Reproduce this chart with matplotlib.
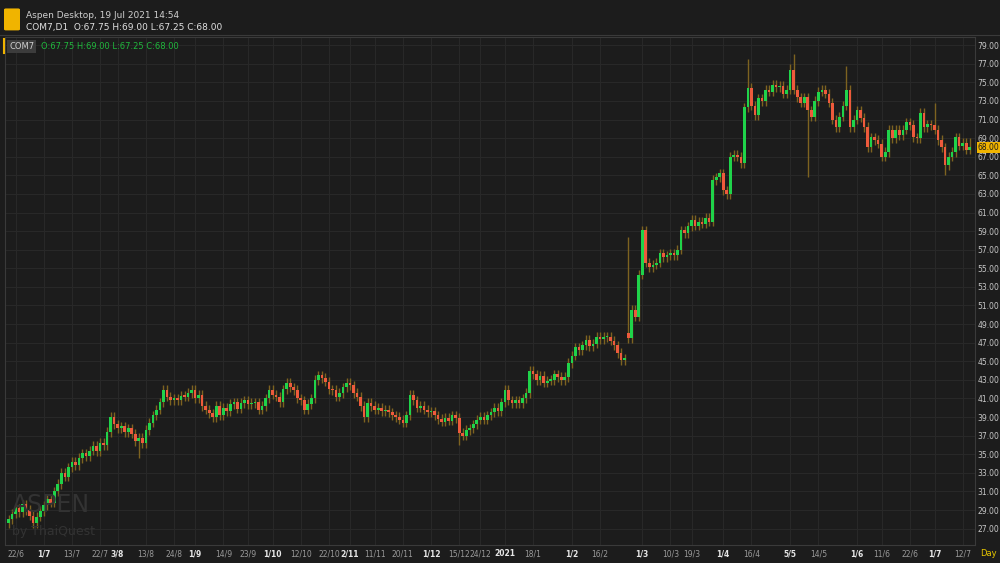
import numpy as np
import matplotlib.pyplot as plt
from matplotlib.patches import FancyBboxPatch

# Daily closes (COM7, 22/6/2020 - 19/7/2021)
closes = [
    28.0, 28.6, 29.2, 28.8, 29.6, 29.0, 28.4, 27.6, 28.3, 28.9,
    29.5, 30.2, 29.8, 31.0, 31.8, 33.0, 32.6, 33.6, 34.2, 33.8,
    34.6, 35.1, 34.8, 35.4, 35.9, 35.3, 36.2, 36.0, 37.4, 39.0,
    38.2, 37.8, 38.0, 37.4, 37.8, 37.2, 36.4, 36.8, 36.2, 37.6,
    38.4, 39.2, 39.8, 40.6, 41.9, 41.2, 40.8, 41.0, 40.8, 41.3,
    41.2, 41.6, 41.9, 41.0, 41.4, 40.2, 39.8, 39.4, 39.0, 40.2,
    39.2, 40.0, 39.6, 40.4, 40.6, 39.9, 40.5, 40.8, 40.4, 40.5,
    40.6, 39.8, 40.2, 41.0, 41.9, 41.4, 41.2, 40.6, 42.0, 42.7,
    42.2, 41.9, 41.0, 40.8, 39.8, 40.4, 41.0, 43.0, 43.5, 43.2,
    42.8, 42.0, 41.9, 41.2, 41.6, 42.2, 42.7, 42.4, 41.6, 41.2,
    40.2, 39.0, 40.5, 40.2, 39.8, 40.0, 39.6, 39.8, 39.5, 39.2,
    39.0, 38.7, 38.4, 39.2, 41.4, 40.8, 40.0, 40.2, 39.8, 39.5,
    39.6, 39.2, 38.8, 38.5, 38.9, 38.6, 39.2, 38.9, 37.3, 37.0,
    37.6, 37.8, 38.2, 38.7, 39.0, 38.7, 39.2, 39.5, 40.0, 39.6,
    40.6, 41.9, 40.8, 40.5, 40.8, 40.5, 41.0, 41.6, 44.0, 43.6,
    43.0, 43.4, 42.7, 42.9, 43.0, 43.6, 43.3, 43.0, 43.3, 44.8,
    45.6, 46.5, 46.2, 46.7, 47.3, 46.6, 46.9, 47.6, 47.4, 47.6,
    47.6, 47.2, 46.7, 45.9, 45.1, 45.3, 47.5, 50.5, 49.8,
    54.3, 59.1, 55.6, 55.1, 55.4, 55.6, 56.6, 56.2, 56.4,
    56.6, 56.4, 57.0, 59.1, 58.8, 59.5, 60.2, 59.6, 60.0, 59.8, 60.4,
    60.0, 64.5, 64.8, 65.2, 63.4, 63.0, 67.0, 67.2, 67.0, 66.3,
    72.3, 74.4, 72.5, 71.5, 73.3, 73.0, 74.2, 74.0, 74.7, 74.5,
    74.6, 73.8, 74.2, 76.3, 74.2, 73.4, 72.8, 73.4, 72.0, 71.3,
    73.0, 74.0, 74.2, 73.8, 72.8, 71.0, 70.2, 71.3, 72.5, 74.2,
    70.2, 71.0, 72.0, 71.2, 70.2, 68.0, 69.1, 68.8, 68.4, 67.0,
    67.5, 69.9, 69.0, 69.9, 69.3, 69.9, 70.7, 70.4, 69.1, 69.0,
    71.7, 70.2, 70.5, 70.4, 69.9, 68.8, 68.0, 66.1, 67.0, 67.5,
    69.1, 68.2, 68.5, 67.75, 68.0,
]
first_open = 27.6
open_override = {176: 48.0, 273: 67.75}
# notable long wicks
high_override = {176: 58.4, 210: 77.5, 222: 77.0, 223: 78.0, 238: 76.8, 263: 72.8, 273: 69.0}
low_override = {37: 34.6, 128: 36.0, 227: 64.8, 266: 65.0, 273: 67.25}

tick_idx = [2, 10, 18, 26, 31, 39, 47, 53, 61, 68, 75, 83, 91, 97, 104, 112, 120,
            128, 134, 141, 149, 160, 168, 180, 188, 194, 203, 211, 222, 230, 241,
            248, 256, 263, 271]
tick_lbl = ['22/6', '1/7', '13/7', '22/7', '3/8', '13/8', '24/8', '1/9', '14/9', '23/9',
            '1/10', '12/10', '22/10', '2/11', '11/11', '20/11', '1/12', '15/12', '24/12',
            '2021', '18/1', '1/2', '16/2', '1/3', '10/3', '19/3', '1/4', '16/4', '5/5',
            '14/5', '1/6', '11/6', '22/6', '1/7', '12/7']
bold_lbl = {'1/7', '3/8', '1/9', '1/10', '2/11', '1/12', '2021', '1/2', '1/3', '1/4',
            '5/5', '1/6'}

BG = '#1c1c1c'
UP = '#1fd34a'
DOWN = '#ee5a3c'
WICK = '#7d6320'

n = len(closes)
closes = np.array(closes)
opens = np.concatenate([[first_open], closes[:-1]])
for k, v in open_override.items():
    opens[k] = v
highs = np.maximum(opens, closes) + 0.5
lows = np.minimum(opens, closes) - 0.5
for k, v in high_override.items():
    highs[k] = v
for k, v in low_override.items():
    lows[k] = v

fig = plt.figure(figsize=(10, 5.63), dpi=100, facecolor=BG)
ax = fig.add_axes([0.005, 0.032, 0.97, 0.902], facecolor=BG)

x = np.arange(n)
ax.vlines(x, lows, highs, color=WICK, lw=1.0, zorder=2)
up = closes >= opens
body_h = np.maximum(np.abs(closes - opens), 0.15)
ax.bar(x[up], body_h[up], bottom=opens[up], width=0.75, color=UP, zorder=3)
ax.bar(x[~up], body_h[~up], bottom=closes[~up], width=0.75, color=DOWN, zorder=3)

ax.set_xlim(-1, n + 0.5)
ax.set_ylim(25.24, 79.86)
yt = np.arange(27, 80, 2)
ax.set_yticks(yt)
ax.set_yticklabels([f'{v:.2f}' for v in yt], fontsize=5.5, color='#c8c8c8')
ax.yaxis.tick_right()
ax.set_xticks(tick_idx)
ax.set_xticklabels(tick_lbl, fontsize=5.5)
for t in ax.get_xticklabels():
    if t.get_text() in bold_lbl:
        t.set_color('#e6e6e6')
        t.set_fontweight('bold')
    else:
        t.set_color('#9a9a9a')
ax.tick_params(length=0, pad=3)
ax.tick_params(axis='y', pad=2)
ax.grid(True, color='#282828', lw=0.8, zorder=0)
for s in ax.spines.values():
    s.set_color('#3a3a3a')

# last price tag
ax.text(1.003, (68.0 - 25.24) / (79.86 - 25.24), '68.00', transform=ax.transAxes,
        fontsize=5.5, color='#1c1c1c', va='center', ha='left',
        bbox=dict(boxstyle='square,pad=0.12', fc='#f0b400', ec='none'))
fig.text(0.988, 0.012, 'Day', fontsize=6, color='#e8c800', ha='center')

# watermark
fig.text(0.012, 0.09, 'ASPEN', fontsize=17, color='#333333')
fig.text(0.012, 0.05, 'by ThaiQuest', fontsize=9, color='#333333')

# header
fig.patches.append(FancyBboxPatch((0.006, 0.948), 0.012, 0.035, boxstyle='round,pad=0.002',
                                  transform=fig.transFigure, fc='#f0b400', ec='none'))
fig.text(0.026, 0.972, 'Aspen Desktop, 19 Jul 2021 14:54', fontsize=6.5, color='#cfcfcf',
         va='center')
fig.text(0.026, 0.951, 'COM7,D1  O:67.75 H:69.00 L:67.25 C:68.00', fontsize=6.5,
         color='#e0e0e0', va='center')
fig.add_artist(plt.Line2D([0, 1], [0.937, 0.937], color='#3a3a3a', lw=0.8))
fig.text(0.009, 0.917, 'COM7', fontsize=6, color='#d0d0d0', va='center',
         bbox=dict(boxstyle='square,pad=0.25', fc='#3c3c3c', ec='none'))
fig.add_artist(plt.Line2D([0.004, 0.004], [0.905, 0.93], color='#f0b400', lw=1.5))
fig.text(0.041, 0.917, 'O:67.75 H:69.00 L:67.25 C:68.00', fontsize=6, color='#1fb83c',
         va='center')

fig.savefig('out.png', dpi=100, facecolor=BG)
